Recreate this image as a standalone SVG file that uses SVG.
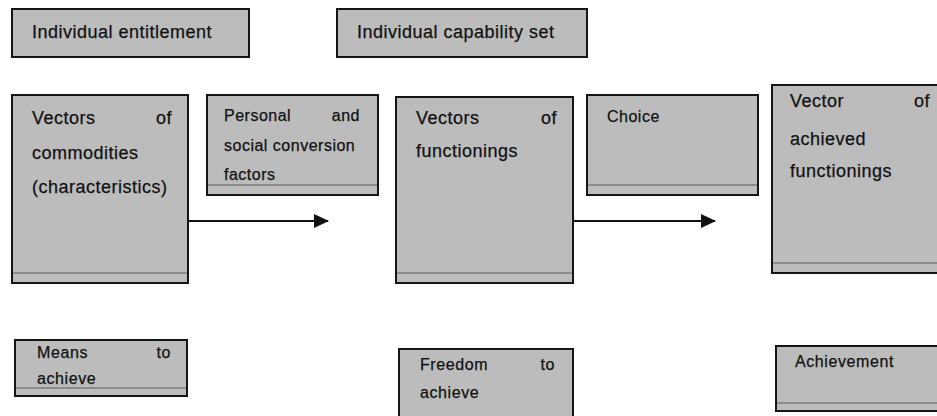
<svg xmlns="http://www.w3.org/2000/svg" width="937" height="416" viewBox="0 0 937 416">
<style>
.box{fill:#bcbcbc;stroke:#151515;stroke-width:2}
.inner{stroke:#5a5a5a;stroke-width:1}
.t{font-family:"Liberation Sans",Arial,sans-serif;fill:#111;stroke:#111;stroke-width:0.25}
.l{font-size:18px;letter-spacing:0.5px}
.m{font-size:16px;letter-spacing:0.5px}
.s{font-size:16px;letter-spacing:0.6px}
.e{text-anchor:end}
.conn{stroke:#111;stroke-width:2;fill:none}
</style>
<defs>
<marker id="ah" markerWidth="15" markerHeight="14" refX="14" refY="7" orient="auto" markerUnits="userSpaceOnUse">
<polygon points="0,0 15,7 0,14" fill="#111"/>
</marker>
</defs>
<g id="individual-entitlement">
<rect class="box" x="12" y="9" width="237" height="48"/>
<text class="t l" x="32" y="38">Individual entitlement</text>
</g>
<g id="individual-capability-set">
<rect class="box" x="337" y="9" width="250" height="48"/>
<text class="t l" x="357" y="38">Individual capability set</text>
</g>
<g id="vectors-commodities">
<rect class="box" x="12" y="95" width="176" height="188"/>
<line class="inner" x1="13" y1="273" x2="187" y2="273"/>
<text class="t l" x="32" y="124">Vectors</text>
<text class="t l e" x="172" y="124">of</text>
<text class="t l" x="32" y="159">commodities</text>
<text class="t l" x="32" y="193">(characteristics)</text>
</g>
<g id="conversion-factors">
<rect class="box" x="207" y="95" width="171" height="100"/>
<line class="inner" x1="208" y1="185" x2="377" y2="185"/>
<text class="t m" x="224" y="121">Personal</text>
<text class="t m e" x="360" y="121">and</text>
<text class="t m" x="224" y="151">social conversion</text>
<text class="t m" x="224" y="180">factors</text>
</g>
<g id="vectors-functionings">
<rect class="box" x="396" y="97" width="177" height="186"/>
<line class="inner" x1="397" y1="273" x2="572" y2="273"/>
<text class="t l" x="416" y="124">Vectors</text>
<text class="t l e" x="557" y="124">of</text>
<text class="t l" x="416" y="157">functionings</text>
</g>
<g id="choice">
<rect class="box" x="587" y="95" width="171" height="100"/>
<line class="inner" x1="588" y1="185" x2="757" y2="185"/>
<text class="t m" x="607" y="122">Choice</text>
</g>
<g id="achieved-functionings">
<rect class="box" x="772" y="85" width="180" height="188"/>
<line class="inner" x1="773" y1="263" x2="940" y2="263"/>
<text class="t l" x="790" y="107">Vector</text>
<text class="t l" x="914" y="107">of</text>
<text class="t l" x="790" y="145">achieved</text>
<text class="t l" x="790" y="177">functionings</text>
</g>
<g id="means-to-achieve">
<rect class="box" x="15" y="340" width="172" height="56"/>
<line class="inner" x1="16" y1="388" x2="186" y2="388"/>
<text class="t s" x="37" y="358">Means</text>
<text class="t s e" x="171" y="358">to</text>
<text class="t s" x="37" y="384">achieve</text>
</g>
<g id="freedom-to-achieve">
<rect class="box" x="399" y="349" width="174" height="80"/>
<text class="t s" x="420" y="370">Freedom</text>
<text class="t s e" x="555" y="370">to</text>
<text class="t s" x="420" y="398">achieve</text>
</g>
<g id="achievement">
<rect class="box" x="776" y="346" width="175" height="65"/>
<line class="inner" x1="777" y1="403" x2="940" y2="403"/>
<text class="t s" x="795" y="367">Achievement</text>
</g>
<g id="connectors">
<line class="conn" x1="189" y1="221" x2="328" y2="221" marker-end="url(#ah)"/>
<line class="conn" x1="574" y1="221" x2="715" y2="221" marker-end="url(#ah)"/>
</g>
</svg>
